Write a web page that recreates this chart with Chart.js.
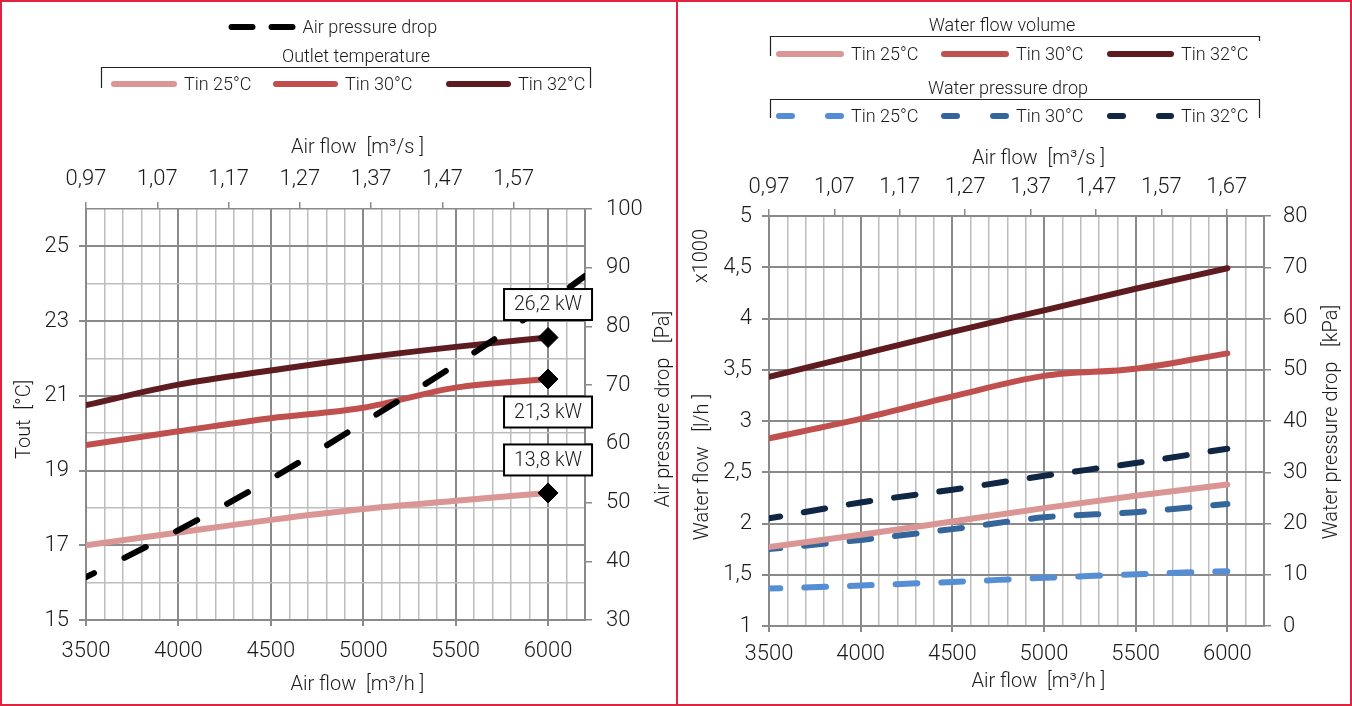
<!DOCTYPE html>
<html>
<head>
<meta charset="utf-8">
<script src="https://cdn.jsdelivr.net/npm/chart.js@4.4.1/dist/chart.umd.min.js"></script>
<style>
  html, body { margin: 0; padding: 0; background: #fff; }
  body { width: 1352px; height: 706px; position: relative; overflow: hidden; }
  .panel { position: absolute; top: 0; height: 706px; box-sizing: border-box; border: 2px solid #e2233f; }
  #leftPanel { left: 0; width: 678px; }
  #rightPanel { left: 676px; width: 676px; }
  canvas { position: absolute; top: 0; left: 0; }
</style>
</head>
<body>
<div class="panel" id="leftPanel"><canvas id="airChart" width="674" height="702"></canvas></div>
<div class="panel" id="rightPanel"><canvas id="waterChart" width="672" height="702"></canvas></div>
<script>
// data
const airFlow = [3500, 4000, 4500, 5000, 5500, 6000];
const airFlowDrop = [3500, 4000, 4500, 5000, 5500, 6000, 6200];
const tinLabels = ['Tin 25°C', 'Tin 30°C', 'Tin 32°C'];

const tout25 = [17.0, 17.34, 17.68, 17.97, 18.19, 18.4];
const tout30 = [19.68, 20.05, 20.4, 20.68, 21.22, 21.45];
const tout32 = [20.75, 21.3, 21.68, 22.02, 22.31, 22.56];
const airPressureDrop = [37.3, 45.3, 54.0, 63.6, 73.5, 84.0, 88.6];
const capacity = ['13,8 kW', '21,3 kW', '26,2 kW'];

const waterFlow25 = [1.77, 1.89, 2.02, 2.15, 2.27, 2.38];
const waterFlow30 = [2.83, 3.02, 3.24, 3.44, 3.51, 3.66];
const waterFlow32 = [3.43, 3.65, 3.87, 4.08, 4.29, 4.49];
const waterDrop25 = [7.3, 7.9, 8.6, 9.4, 10.1, 10.7];
const waterDrop30 = [15.0, 16.8, 18.9, 21.2, 22.2, 23.8];
const waterDrop32 = [21.0, 24.1, 26.6, 29.3, 31.8, 34.6];

const topTicksLeft = [0.97, 1.07, 1.17, 1.27, 1.37, 1.47, 1.57];
const topTicksRight = [0.97, 1.07, 1.17, 1.27, 1.37, 1.47, 1.57, 1.67];

const pink = '#d99694', red = '#c0504d', maroon = '#5e1c21';
const blue1 = '#558ed5', blue2 = '#34659b', blue3 = '#0f2744';
const majorGrid = '#8a8a8a', minorGrid = '#bdbdbd', textColor = '#1a1a1a';
const FONT = 'Roboto';

Chart.defaults.font.family = FONT;
Chart.defaults.font.weight = 300;
Chart.defaults.color = textColor;

const pts = (xs, ys) => xs.map((x, i) => ({ x: x, y: ys[i] }));
const comma = (v, d) => v.toFixed(d).replace('.', ',');
const tickFont = { size: 22, weight: 300 };
const titleFont = { size: 20, weight: 300 };

function solid(label, data, color, axis) {
    return {
        label: label, data: data, borderColor: color, backgroundColor: color,
        borderWidth: 6, pointRadius: 0, yAxisID: axis,
        cubicInterpolationMode: 'monotone', borderCapStyle: 'round', order: 2
    };
}
// order: lower value is drawn on top
function dashed(label, data, color, axis, dash, offset, order) {
    return Object.assign(solid(label, data, color, axis), { borderDash: dash, borderDashOffset: offset, order: order });
}

// legend groups with bracket, drawn from the dataset styles
const groupLegend = {
    id: 'groupLegend',
    afterDraw(chart, args, opts) {
        const ctx = chart.ctx;
        ctx.save();
        ctx.font = '300 18px ' + FONT;
        ctx.fillStyle = textColor;
        ctx.textBaseline = 'middle';
        opts.titles.forEach(t => {
            ctx.textAlign = 'center';
            ctx.fillText(t.text, t.x, t.y);
        });
        opts.brackets.forEach(b => {
            ctx.strokeStyle = '#222';
            ctx.lineWidth = 1.2;
            ctx.setLineDash([]);
            ctx.beginPath();
            ctx.moveTo(b.x1, b.yl); ctx.lineTo(b.x1, b.y); ctx.lineTo(b.x2, b.y); ctx.lineTo(b.x2, b.yr);
            ctx.stroke();
        });
        opts.items.forEach(it => {
            const ds = chart.data.datasets[it.ds];
            ctx.strokeStyle = ds.borderColor;
            ctx.lineWidth = 6;
            ctx.lineCap = 'round';
            ctx.setLineDash(it.dash || []);
            ctx.beginPath();
            ctx.moveTo(it.x1, it.y); ctx.lineTo(it.x2, it.y);
            ctx.stroke();
            ctx.setLineDash([]);
            ctx.textAlign = 'left';
            ctx.fillText(ds.label, it.x2 + 10, it.y + 1);
        });
        ctx.restore();
    }
};

// capacity boxes at the last point of each temperature line
const kwBoxes = {
    id: 'kwBoxes',
    afterDatasetsDraw(chart, args, opts) {
        if (!opts.items) return;
        const ctx = chart.ctx;
        ctx.save();
        opts.items.forEach(it => {
            const meta = chart.getDatasetMeta(it.ds);
            const p = meta.data[meta.data.length - 1];
            const cy = p.y + it.dy;
            ctx.fillStyle = '#fff';
            ctx.fillRect(p.x - 44, cy - 15.5, 88, 31);
            ctx.strokeStyle = '#000';
            ctx.lineWidth = 2;
            ctx.strokeRect(p.x - 44, cy - 15.5, 88, 31);
            ctx.fillStyle = textColor;
            ctx.font = '300 19.5px ' + FONT;
            ctx.textAlign = 'center';
            ctx.textBaseline = 'middle';
            ctx.fillText(it.text, p.x, cy + 1);
        });
        ctx.restore();
    }
};

// rotated captions that read bottom to top
const freeText = {
    id: 'freeText',
    afterDraw(chart, args, opts) {
        if (!opts.items) return;
        const ctx = chart.ctx;
        ctx.save();
        ctx.font = '300 20px ' + FONT;
        ctx.fillStyle = textColor;
        ctx.textAlign = 'center';
        ctx.textBaseline = 'middle';
        opts.items.forEach(t => {
            ctx.save();
            ctx.translate(t.x, t.y);
            ctx.rotate(-Math.PI / 2);
            ctx.fillText(t.text, 0, 0);
            ctx.restore();
        });
        ctx.restore();
    }
};

function airFlowAxis(height, tickPad, titlePad) {
    return {
        type: 'linear', position: 'bottom', min: 3500, max: 6200,
        ticks: {
            stepSize: 100, autoSkip: false, maxRotation: 0, padding: tickPad, font: tickFont,
            callback: v => (v % 500 === 0 ? v : '')
        },
        grid: {
            color: c => (c.tick.value % 500 === 0 || c.tick.value === 6200 ? majorGrid : minorGrid),
            lineWidth: c => (c.tick.value % 500 === 0 ? 2 : 1.5),
            tickColor: c => (c.tick.value % 500 === 0 ? majorGrid : 'rgba(0,0,0,0)'),
            tickLength: 6
        },
        border: { color: majorGrid, width: 2 },
        title: { display: true, text: '         Air flow  [m³/h ]', font: titleFont, padding: { top: 0, bottom: titlePad } },
        afterFit: s => { s.height = height; }
    };
}

function topAxis(max, list, height, tickPad, titlePad) {
    return {
        type: 'linear', position: 'top', min: 0.97, max: max,
        afterBuildTicks: s => { s.ticks = list.map(v => ({ value: v })); },
        ticks: { padding: tickPad, font: tickFont, maxRotation: 0, autoSkip: false, callback: v => comma(v, 2) },
        grid: { drawOnChartArea: false, tickLength: 7, color: majorGrid, lineWidth: 1.5 },
        border: { display: false },
        title: { display: true, text: '         Air flow  [m³/s ]', font: titleFont, padding: { top: titlePad, bottom: 0 } },
        afterFit: s => { s.height = height; }
    };
}

// left chart: outlet temperature and air pressure drop
new Chart(document.getElementById('airChart'), {
    type: 'line',
    data: {
        datasets: [
            dashed('Air pressure drop', pts(airFlowDrop, airPressureDrop), '#000', 'yPa', [24, 34], 15, 1),
            solid(tinLabels[0], pts(airFlow, tout25), pink, 'yT'),
            solid(tinLabels[1], pts(airFlow, tout30), red, 'yT'),
            solid(tinLabels[2], pts(airFlow, tout32), maroon, 'yT')
        ].map((d, i) => i === 0 ? d : Object.assign(d, {
            pointRadius: c => (c.dataIndex === airFlow.length - 1 ? 10 : 0),
            pointStyle: 'rectRot', pointBackgroundColor: '#000', pointBorderColor: '#000', pointBorderWidth: 1
        }))
    },
    options: {
        responsive: false, animation: false, events: [],
        layout: { padding: { top: 110, left: 0, right: 0, bottom: 0 } },
        plugins: {
            legend: { display: false }, tooltip: { enabled: false },
            groupLegend: {
                titles: [{ text: 'Outlet temperature', x: 354, y: 55 }],
                brackets: [{ x1: 99.5, x2: 588.5, y: 65.5, yl: 86, yr: 86 }],
                items: [
                    { ds: 0, x1: 229.5, x2: 290.5, y: 25, dash: [21, 19] },
                    { ds: 1, x1: 112, x2: 172, y: 82 },
                    { ds: 2, x1: 274, x2: 333, y: 82 },
                    { ds: 3, x1: 447, x2: 506, y: 82 }
                ]
            },
            kwBoxes: {
                items: [
                    { ds: 3, dy: -33, text: capacity[2] },
                    { ds: 2, dy: 33, text: capacity[1] },
                    { ds: 1, dy: -33, text: capacity[0] }
                ]
            },
            freeText: {
                items: [{ text: 'Air pressure drop   [Pa]', x: 662, y: 407 }]
            }
        },
        scales: {
            x: airFlowAxis(84, 12, 7),
            xTop: topAxis(1.67, topTicksLeft, 97, 9, 24),
            yT: {
                type: 'linear', position: 'left', min: 15, max: 26,
                ticks: { stepSize: 1, padding: 10, font: tickFont, callback: v => (v % 2 === 1 ? v : '') },
                grid: {
                    color: c => (c.tick.value % 2 === 1 || c.tick.value === 26 ? majorGrid : minorGrid),
                    lineWidth: c => (c.tick.value % 2 === 1 ? 2 : 1.5),
                    tickColor: c => (c.tick.value % 2 === 1 ? majorGrid : 'rgba(0,0,0,0)'),
                    tickLength: 7
                },
                border: { color: majorGrid, width: 2 },
                title: { display: true, text: 'Tout  [°C]  ', font: titleFont, padding: { top: 11, bottom: 0 } },
                afterFit: s => { s.width = 84; }
            },
            yPa: {
                type: 'linear', position: 'right', min: 30, max: 100,
                ticks: { stepSize: 10, padding: 14, font: tickFont },
                grid: { drawOnChartArea: false, tickLength: 7, color: majorGrid, lineWidth: 1.5 },
                border: { color: majorGrid, width: 2 },
                afterFit: s => { s.width = 91; }
            }
        }
    },
    plugins: [groupLegend, kwBoxes, freeText]
});

// right chart: water flow volume and water pressure drop
new Chart(document.getElementById('waterChart'), {
    type: 'line',
    data: {
        datasets: [
            solid(tinLabels[0], pts(airFlow, waterFlow25), pink, 'yFlow'),
            solid(tinLabels[1], pts(airFlow, waterFlow30), red, 'yFlow'),
            solid(tinLabels[2], pts(airFlow, waterFlow32), maroon, 'yFlow'),
            dashed(tinLabels[0], pts(airFlow, waterDrop25), blue1, 'yKpa', [21.7, 24], 10.4, 3),
            dashed(tinLabels[1], pts(airFlow, waterDrop30), blue2, 'yKpa', [21.7, 24], 10.4, 3),
            dashed(tinLabels[2], pts(airFlow, waterDrop32), blue3, 'yKpa', [21.7, 24], 10.4, 3)
        ]
    },
    options: {
        responsive: false, animation: false, events: [],
        layout: { padding: { top: 125, left: 0, right: 0, bottom: 0 } },
        plugins: {
            legend: { display: false }, tooltip: { enabled: false },
            groupLegend: {
                titles: [
                    { text: 'Water flow volume', x: 324, y: 24 },
                    { text: 'Water pressure drop', x: 330, y: 87 }
                ],
                brackets: [
                    { x1: 92.5, x2: 581.5, y: 34.5, yl: 54, yr: 39 },
                    { x1: 92.5, x2: 581.5, y: 97.5, yl: 116, yr: 116 }
                ],
                items: [
                    { ds: 0, x1: 101, x2: 163, y: 52 },
                    { ds: 1, x1: 266, x2: 328, y: 52 },
                    { ds: 2, x1: 432, x2: 493, y: 52 },
                    { ds: 3, x1: 101, x2: 163, y: 114, dash: [13, 36] },
                    { ds: 4, x1: 266, x2: 328, y: 114, dash: [13, 36] },
                    { ds: 5, x1: 432, x2: 493, y: 114, dash: [13, 36] }
                ]
            },
            freeText: {
                items: [
                    { text: 'x1000', x: 24, y: 254 },
                    { text: 'Water flow   [l/h ]', x: 25, y: 465 },
                    { text: 'Water pressure drop   [kPa]', x: 654, y: 420 }
                ]
            }
        },
        scales: {
            x: airFlowAxis(78, 9, 10),
            xTop: topAxis(1.727, topTicksRight, 89, 8, 20),
            yFlow: {
                type: 'linear', position: 'left', min: 1, max: 5,
                ticks: { stepSize: 0.5, padding: 10, font: tickFont, callback: v => String(v).replace('.', ',') },
                grid: { color: majorGrid, lineWidth: 2, tickLength: 7 },
                border: { color: majorGrid, width: 2 },
                afterFit: s => { s.width = 91; }
            },
            yKpa: {
                type: 'linear', position: 'right', min: 0, max: 80,
                ticks: { stepSize: 10, padding: 12, font: tickFont },
                grid: { drawOnChartArea: false, tickLength: 7, color: majorGrid, lineWidth: 1.5 },
                border: { color: majorGrid, width: 2 },
                afterFit: s => { s.width = 86; }
            }
        }
    },
    plugins: [groupLegend, freeText]
});
</script>
</body>
</html>
